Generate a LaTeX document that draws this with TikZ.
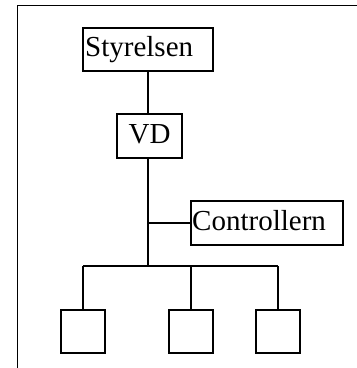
\documentclass[tikz,border=0pt]{standalone}
\usepackage{fontspec}
\setmainfont{Liberation Serif}
\begin{document}
\begin{tikzpicture}[x=1pt,y=-1pt,
  orgbox/.style={draw,line width=1.4pt,rectangle,inner sep=0pt},
  label text/.style={inner sep=0pt,anchor=base west,font=\fontsize{29}{34}\selectfont},
  link/.style={line width=1.3pt}]
\useasboundingbox (0,0) rectangle (357,368);
\clip (0,0) rectangle (357,368);
% outer frame
\draw[line width=1.4pt] (17.5,5.5) rectangle (420,420);
% boxes
\node[orgbox,minimum width=130pt,minimum height=43pt] (styr) at (148,49.5) {};
\node[orgbox,minimum width=65pt,minimum height=44pt] (vd) at (149.5,136) {};
\node[orgbox,minimum width=152pt,minimum height=44pt] (ctrl) at (267,223) {};
\node[orgbox,minimum width=44pt,minimum height=43pt] (c1) at (83,331.5) {};
\node[orgbox,minimum width=44pt,minimum height=43pt] (c2) at (191,331.5) {};
\node[orgbox,minimum width=44pt,minimum height=43pt] (c3) at (278,331.5) {};
% texts
\node[label text] (tstyr) at (85,56) {Styrelsen};
\node[label text] (tvd) at (128.5,143) {VD};
\node[label text] (tctrl) at (192,230) {Controllern};
% connectors
\coordinate (bus) at (148,266);
\coordinate (branch) at (148,223);
\draw[link] (styr.south) -- (styr.south |- vd.north);
\draw[link] (styr.south |- vd.south) -- (bus);
\draw[link] (branch) -- (ctrl.west);
\draw[link] (c1.north |- bus) -- (c3.north |- bus);
\draw[link] (c1.north |- bus) -- (c1.north);
\draw[link] (c2.north |- bus) -- (c2.north);
\draw[link] (c3.north |- bus) -- (c3.north);
\end{tikzpicture}
\end{document}
